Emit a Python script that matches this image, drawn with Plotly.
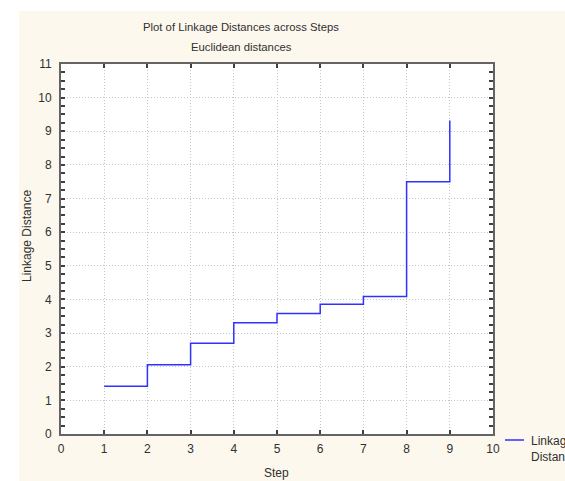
import plotly.graph_objects as go

# Linkage distance at each amalgamation step
steps = [1, 2, 3, 4, 5, 6, 7, 8, 9]
linkage_distance = [1.42, 2.06, 2.70, 3.31, 3.58, 3.86, 4.09, 7.50, 9.32]

x_ticks = list(range(0, 11))
y_ticks = list(range(0, 12))

W, H = 565, 481
L, R, T, B = 61, 72, 64, 47
pw, ph = W - L - R, H - T - B

FONT = "Liberation Sans, Arial, sans-serif"
TEXT_COLOR = "#303030"
AXIS_COLOR = "#646464"
GRID_COLOR = "#c4c4c4"
LINE_COLOR = "#3030ff"
CREAM = "#fdf8ee"


def px_x(x):
    return (x - L) / pw


def px_y(y):
    return (H - B - y) / ph


fig = go.Figure()
fig.add_trace(go.Scatter(
    x=steps, y=linkage_distance,
    mode="lines", line_shape="hv",
    line=dict(color=LINE_COLOR, width=1.5),
    name="Linkage Distance", showlegend=False,
))

axis_common = dict(
    showline=True, linecolor=AXIS_COLOR, linewidth=2, mirror="ticks",
    ticks="inside", ticklen=4, tickwidth=1.5, tickcolor="#404040",
    showgrid=True, gridcolor=GRID_COLOR, griddash="1px,2px", gridwidth=1,
    zeroline=False, tickfont=dict(family=FONT, size=12, color=TEXT_COLOR),
)

fig.update_xaxes(range=[0, 10], tickvals=x_ticks, ticklabelstandoff=3,
                 **axis_common)
fig.update_yaxes(range=[0, 11], tickvals=y_ticks, ticklabelstandoff=5,
                 minor=dict(dtick=0.25, ticks="inside", ticklen=4,
                            tickcolor="#404040", showgrid=False),
                 **axis_common)

# white margin strips above and left of the cream panel
fig.add_shape(type="rect", xref="paper", yref="paper",
              x0=px_x(-5), x1=px_x(W + 5), y0=px_y(11), y1=px_y(-5),
              fillcolor="white", line=dict(width=0), layer="below")
fig.add_shape(type="rect", xref="paper", yref="paper",
              x0=px_x(-5), x1=px_x(19), y0=px_y(H + 5), y1=px_y(-5),
              fillcolor="white", line=dict(width=0), layer="below")

# legend key drawn beside the plot
fig.add_shape(type="line", xref="paper", yref="paper",
              x0=px_x(505), x1=px_x(524), y0=px_y(440), y1=px_y(440),
              line=dict(color=LINE_COLOR, width=1.5))
fig.add_annotation(text="Linkage<br>Distance", align="left",
                   x=px_x(529), y=px_y(432), xref="paper", yref="paper",
                   xanchor="left", yanchor="top", showarrow=False,
                   font=dict(family=FONT, size=12, color=TEXT_COLOR))

title_font = dict(family=FONT, size=11.3, color=TEXT_COLOR)
fig.add_annotation(text="Plot of Linkage Distances across Steps",
                   x=px_x(241), y=px_y(27), xref="paper", yref="paper",
                   xanchor="center", yanchor="middle",
                   showarrow=False, font=title_font)
fig.add_annotation(text="Euclidean distances",
                   x=px_x(241), y=px_y(47), xref="paper", yref="paper",
                   xanchor="center", yanchor="middle",
                   showarrow=False, font=title_font)
fig.add_annotation(text="Step",
                   x=px_x(276), y=px_y(473), xref="paper", yref="paper",
                   xanchor="center", yanchor="middle",
                   showarrow=False, font=dict(family=FONT, size=12, color=TEXT_COLOR))
fig.add_annotation(text="Linkage Distance", textangle=-90,
                   x=px_x(27), y=px_y(236), xref="paper", yref="paper",
                   xanchor="center", yanchor="middle",
                   showarrow=False, font=dict(family=FONT, size=12, color=TEXT_COLOR))

fig.update_layout(
    width=W, height=H,
    margin=dict(l=L, r=R, t=T, b=B, autoexpand=False),
    paper_bgcolor=CREAM, plot_bgcolor="white",
    showlegend=False,
)

fig.write_html("out.html")
